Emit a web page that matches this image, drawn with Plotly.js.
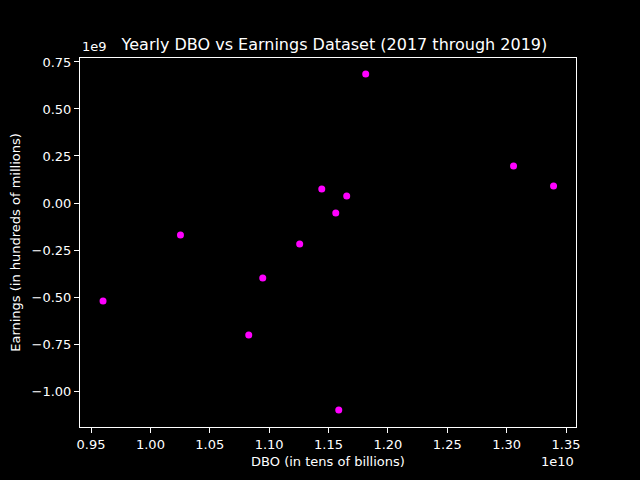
<!DOCTYPE html>
<html>
<head>
<script src="https://cdn.plot.ly/plotly-3.0.1.min.js"></script>
<style>body{margin:0;background:#000}</style>
</head>
<body>
<div id="chart" style="width:640px;height:480px"></div>
<script>
// Points
const dbo = [0.9601e10, 1.0253e10, 1.0828e10, 1.0946e10, 1.1257e10, 1.1443e10,
             1.1561e10, 1.1586e10, 1.1653e10, 1.1813e10, 1.3058e10, 1.3395e10];
const earnings = [-0.521e9, -0.170e9, -0.702e9, -0.399e9, -0.218e9, 0.074e9,
                  -0.053e9, -1.101e9, 0.037e9, 0.686e9, 0.197e9, 0.090e9];

// Tick labels (matplotlib style, offset shown separately)
const xTickVals = [0.95e10, 1.00e10, 1.05e10, 1.10e10, 1.15e10, 1.20e10, 1.25e10, 1.30e10, 1.35e10];
const xTickText = ["0.95", "1.00", "1.05", "1.10", "1.15", "1.20", "1.25", "1.30", "1.35"];
const yTickVals = [0.75e9, 0.5e9, 0.25e9, 0, -0.25e9, -0.5e9, -0.75e9, -1.0e9];
const yTickText = ["0.75", "0.50", "0.25", "0.00", "\u22120.25", "\u22120.50", "\u22120.75", "\u22121.00"];

const trace = {
    x: dbo,
    y: earnings,
    mode: "markers",
    type: "scatter",
    marker: {color: "#ff00ff", size: 7}
};

const axisStyle = {
    showgrid: false,
    zeroline: false,
    showline: true,
    mirror: true,
    linecolor: "#ffffff",
    linewidth: 1,
    ticks: "outside",
    ticklen: 5,
    tickcolor: "#ffffff",
    tickfont: {color: "#ffffff", size: 13}
};

const layout = {
    width: 640,
    height: 480,
    paper_bgcolor: "#000000",
    plot_bgcolor: "#000000",
    font: {family: "DejaVu Sans", color: "#ffffff", size: 13},
    showlegend: false,
    margin: {l: 80, r: 64, t: 58, b: 53},
    title: {text: "Yearly DBO vs Earnings Dataset (2017 through 2019)",
            font: {size: 16}, x: 0.513, xanchor: "center", y: 0.908, yanchor: "middle", xref: "paper"},
    xaxis: Object.assign({}, axisStyle, {
        range: [0.9407e10, 1.3584e10],
        tickvals: xTickVals, ticktext: xTickText,
        title: {text: "DBO (in tens of billions)", font: {size: 13}, standoff: 6}
    }),
    yaxis: Object.assign({}, axisStyle, {
        range: [-1.191e9, 0.771e9],
        tickvals: yTickVals, ticktext: yTickText,
        title: {text: "Earnings (in hundreds of millions)", font: {size: 13}, standoff: 8}
    }),
    annotations: [
        {text: "1e10", xref: "paper", yref: "paper", x: 1, y: -0.068, xanchor: "right", yanchor: "top",
         showarrow: false, font: {size: 13}},
        {text: "1e9", xref: "paper", yref: "paper", x: 0, y: 1.005, xanchor: "left", yanchor: "bottom",
         showarrow: false, font: {size: 13}}
    ]
};

Plotly.newPlot("chart", [trace], layout, {displayModeBar: false});
</script>
</body>
</html>
